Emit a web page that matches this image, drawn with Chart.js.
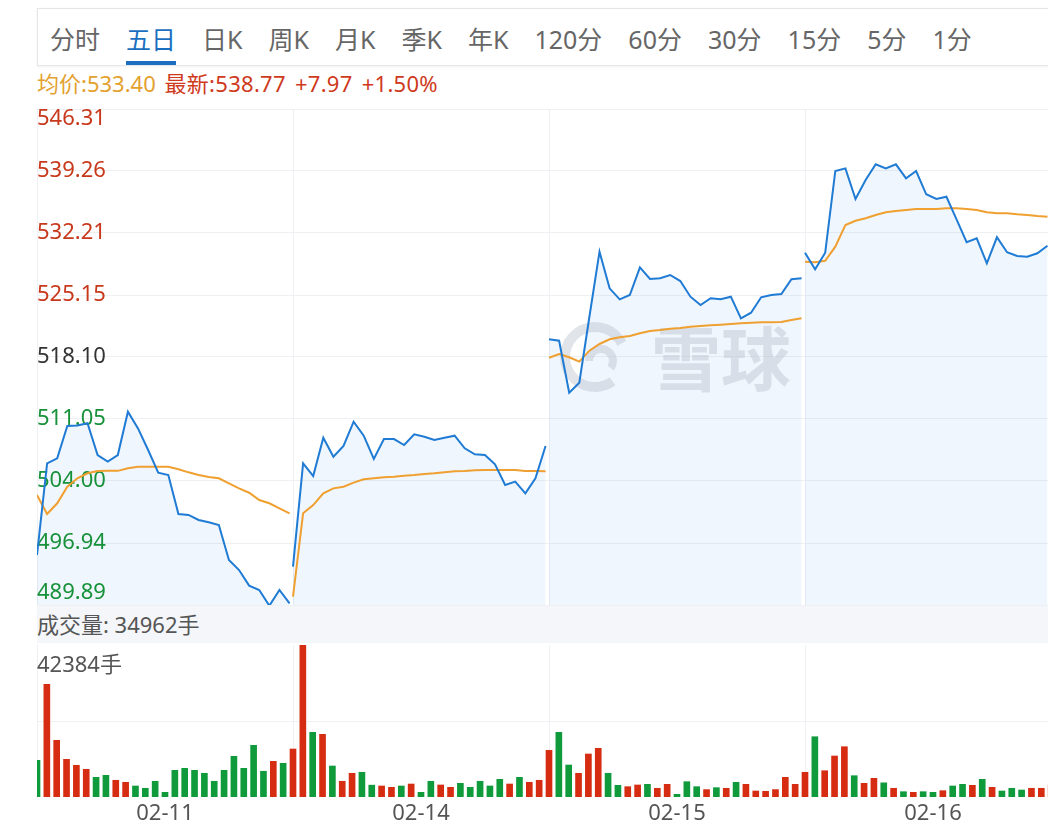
<!DOCTYPE html>
<html>
<head>
<meta charset="utf-8">
<script src="https://cdn.jsdelivr.net/npm/chart.js@4.4.1/dist/chart.umd.min.js"></script>
<style>
  html, body { margin: 0; padding: 0; width: 1048px; height: 828px; overflow: hidden; background: #fff; }
  body { position: relative; font-family: "Noto Sans", "Noto Sans CJK SC", sans-serif; }
  #tabs {
    position: absolute; left: 37px; top: 8px; width: 1040px; height: 58px; box-sizing: border-box;
    border: 1px solid #e4e6ea; box-shadow: 0 1px 3px rgba(0,0,0,0.05);
    display: flex; align-items: flex-start; gap: 26px; padding: 15px 0 0 12px;
    font-size: 25px; line-height: 30px; color: #666;
  }
  #tabs span { position: relative; white-space: nowrap; }
  #tabs .active { color: #1c6fc0; }
  #tabs .active::after { content: ''; position: absolute; left: 0; right: 0; top: 37px; height: 4px; background: #1c6fc0; }
  #quote { position: absolute; left: 37px; top: 71px; font-size: 22px; line-height: 24px; white-space: nowrap; word-spacing: 3px; }
  #quote .avg { color: #e3a12f; }
  #quote .last { color: #cf3a1d; letter-spacing: 0.3px; }
  #volBand { position: absolute; left: 37px; top: 605px; width: 1030px; height: 38px; background: #f4f6f9;
    font-size: 22px; line-height: 38px; color: #555; white-space: nowrap; }
  #volMax { position: absolute; left: 37px; top: 651px; font-size: 22px; line-height: 24px; color: #555; z-index: 2; }
  canvas { position: absolute; }
  #priceChart { left: 27px; top: 99px; }
  #volChart { left: 27px; top: 635px; }
</style>
</head>
<body>
<div id="tabs">
  <span>分时</span><span class="active">五日</span><span>日K</span><span>周K</span><span>月K</span><span>季K</span><span>年K</span><span>120分</span><span>60分</span><span>30分</span><span>15分</span><span>5分</span><span>1分</span>
</div>
<div id="quote"><span class="avg">均价:533.40</span> <span class="last">最新:538.77 +7.97 +1.50%</span></div>
<div id="volBand">成交量: 34962手</div>
<canvas id="priceChart" width="1034" height="516"></canvas>
<canvas id="volChart" width="1034" height="193"></canvas>
<div id="volMax">42384手</div>
<script>
const dayLabels = ['02-11', '02-14', '02-15', '02-16'];
const priceTicks = [489.89, 496.94, 504.00, 511.05, 518.10, 525.15, 532.21, 539.26, 546.31];
const prevClose = 518.10;
const volMax = 42384;
const slotsPerDay = 26;

// 价格 (每日 26 个点, 最后一天只看得到 25 个)
const day1Price = [495.58, 506.0, 506.57, 510.25, 510.3, 510.56, 506.95, 506.2, 506.95, 511.88, 509.98, 507.52, 504.94, 504.68, 500.24, 500.13, 499.56, 499.3, 498.99, 495.01, 493.87, 492.09, 491.6, 489.81, 491.6, 490.08];
const day2Price = [494.25, 506.0, 504.56, 508.92, 506.76, 507.98, 510.74, 509.15, 506.5, 508.77, 508.77, 508.09, 509.31, 509.03, 508.66, 508.92, 509.15, 507.71, 507.03, 506.95, 505.89, 503.54, 503.92, 502.59, 504.3, 507.98];
const day3Price = [520.11, 519.95, 514.04, 515.18, 522.68, 530.08, 525.91, 524.66, 525.15, 528.3, 526.97, 527.05, 527.43, 526.74, 524.96, 524.01, 524.78, 524.66, 524.96, 522.5, 523.14, 524.89, 525.15, 525.27, 526.94, 527.05];
const day4Price = [529.96, 528.08, 529.96, 539.26, 539.56, 536.07, 538.23, 540.02, 539.56, 540.02, 538.43, 539.26, 536.61, 536.07, 536.33, 533.76, 531.15, 531.6, 528.76, 531.72, 530.01, 529.59, 529.51, 529.9, 530.76];

// 均价
const day1Avg = [502.4, 500.24, 501.46, 503.35, 504.3, 504.87, 505.13, 505.15, 505.15, 505.44, 505.62, 505.62, 505.62, 505.62, 505.33, 504.98, 504.68, 504.45, 504.3, 503.73, 503.16, 502.66, 501.83, 501.46, 500.89, 500.32];
const day2Avg = [490.84, 500.32, 501.26, 502.59, 503.16, 503.35, 503.81, 504.19, 504.3, 504.42, 504.48, 504.6, 504.68, 504.79, 504.87, 504.98, 505.1, 505.13, 505.21, 505.25, 505.25, 505.25, 505.25, 505.13, 505.13, 505.1];
const day3Avg = [518.02, 518.44, 518.07, 517.57, 518.82, 519.58, 520.11, 520.34, 520.49, 520.8, 521.06, 521.17, 521.32, 521.4, 521.55, 521.63, 521.7, 521.78, 521.85, 521.93, 522.0, 522.04, 522.04, 522.08, 522.31, 522.5];
const day4Avg = [528.94, 528.87, 529.05, 530.65, 533.11, 533.6, 533.88, 534.25, 534.56, 534.71, 534.82, 534.93, 534.93, 534.93, 535.01, 535.01, 534.93, 534.82, 534.56, 534.45, 534.45, 534.33, 534.25, 534.14, 534.06];

// 成交量 (手) 和涨跌 (1 = 红, 0 = 绿)
const day1Vol = [10230, 31420, 15800, 10510, 8840, 7720, 5490, 6050, 4660, 4100, 3070, 2430, 4380, 1310, 7440, 8000, 7440, 6610, 4380, 7440, 11350, 8000, 14410, 7170, 9950, 9400];
const day2Vol = [13380, 42384, 18030, 17480, 8640, 4380, 6610, 6890, 3300, 3070, 2700, 3070, 3620, 1310, 4380, 3350, 2700, 3810, 2700, 4380, 3070, 4930, 3620, 5490, 4100, 4660];
const day3Vol = [13020, 18030, 8920, 6610, 11990, 13580, 6610, 3260, 2880, 3350, 3530, 2430, 3530, 750, 4270, 2880, 2060, 2600, 2430, 4100, 3530, 1670, 1590, 2060, 5490, 3530];
const day4Vol = [6890, 16810, 7330, 11430, 14020, 5940, 3810, 5210, 3950, 2430, 1480, 1310, 1480, 1310, 1760, 3070, 3530, 3260, 4930, 2700, 1670, 2430, 1950, 2430, 2430, 3350];
const day1Up = [0,1,1,1,1,1,0,0,1,1,0,0,0,0,0,0,0,0,0,0,0,0,0,0,1,0];
const day2Up = [1,1,0,1,0,1,1,0,0,1,1,0,1,0,0,1,1,0,0,0,0,0,1,0,1,1];
const day3Up = [1,0,0,1,1,1,0,0,1,1,0,1,1,0,0,0,1,0,1,0,1,1,1,1,1,1];
const day4Up = [1,0,1,1,1,0,1,1,0,1,0,1,0,0,1,0,0,1,0,1,0,0,0,1,1,1];

const BLUE = '#1f7bd3';
const ORANGE = '#efa030';
const RED = '#d62c12';
const GREEN = '#0f9a3c';
const GRID = '#eef0f3';
const FONT = '"Noto Sans", "Noto Sans CJK SC", sans-serif';

Chart.defaults.font.family = FONT;
Chart.defaults.font.size = 22;

const totalSlots = slotsPerDay * dayLabels.length;
const dayStarts = [];
for (let d = 0; d <= dayLabels.length; d++) dayStarts.push(d * slotsPerDay);
const dayCenters = dayLabels.map((_, d) => d * slotsPerDay + slotsPerDay / 2);
// 分时线在一天里铺得比量柱略宽, 只在日末留一点空
const lineStep = (slotsPerDay - 0.35) / (slotsPerDay - 1);

const dayPrices = [day1Price, day2Price, day3Price, day4Price];
const dayAvgs = [day1Avg, day2Avg, day3Avg, day4Avg];
const dayVols = [day1Vol, day2Vol, day3Vol, day4Vol];
const dayUps = [day1Up, day2Up, day3Up, day4Up];

const toPoints = (vals, d) => vals.map((v, i) => ({ x: d * slotsPerDay + i * lineStep, y: v }));

const priceDatasets = [];
dayPrices.forEach((vals, d) => {
  priceDatasets.push({ data: toPoints(vals, d), borderColor: BLUE, borderWidth: 2,
    backgroundColor: 'rgba(40,130,220,0.07)', fill: 'start', order: 0 });
  priceDatasets.push({ data: toPoints(dayAvgs[d], d), borderColor: ORANGE, borderWidth: 2, fill: false, order: 1 });
});

// 水印
const watermark = {
  id: 'watermark',
  beforeDatasetsDraw(chart) {
    const { ctx, scales: { x, y } } = chart;
    const cx = x.getPixelForValue(65);
    const cy = y.getPixelForValue(priceTicks[4]);
    ctx.save();
    ctx.strokeStyle = 'rgba(175,183,198,0.38)';
    ctx.fillStyle = 'rgba(175,183,198,0.38)';
    ctx.lineWidth = 10;
    ctx.beginPath();
    ctx.arc(cx - 82, cy, 30, 0.3 * Math.PI, 1.85 * Math.PI);
    ctx.stroke();
    ctx.lineWidth = 8;
    ctx.beginPath();
    ctx.arc(cx - 76, cy + 4, 12, 1.0 * Math.PI, 2.2 * Math.PI);
    ctx.stroke();
    ctx.font = 'bold 70px "Noto Sans CJK SC"';
    ctx.textAlign = 'left';
    ctx.textBaseline = 'middle';
    ctx.fillText('雪球', cx - 26, cy + 2);
    ctx.restore();
  }
};

// 价格刻度
const priceLabels = {
  id: 'priceLabels',
  beforeDatasetsDraw(chart) {
    const { ctx, chartArea, scales: { y } } = chart;
    ctx.save();
    ctx.font = '22px ' + FONT;
    ctx.textAlign = 'left';
    ctx.textBaseline = 'middle';
    priceTicks.forEach((v, i) => {
      let py = y.getPixelForValue(v);
      if (i === priceTicks.length - 1) py += 10;
      else if (i === 0) py -= 12;
      ctx.fillStyle = v > prevClose ? '#c8391c' : (v < prevClose ? '#17913a' : '#333');
      ctx.fillText(v.toFixed(2), chartArea.left, py);
    });
    ctx.restore();
  }
};

new Chart(document.getElementById('priceChart'), {
  type: 'line',
  data: { datasets: priceDatasets },
  plugins: [watermark, priceLabels],
  options: {
    responsive: false,
    animation: false,
    layout: { padding: { left: 10, top: 10, right: 0, bottom: 10 } },
    elements: { point: { radius: 0 }, line: { tension: 0 } },
    plugins: { legend: { display: false }, tooltip: { enabled: false }, filler: { drawTime: 'beforeDatasetsDraw' } },
    scales: {
      x: {
        type: 'linear', min: 0, max: totalSlots,
        border: { display: false },
        ticks: { display: false },
        grid: { color: GRID, drawTicks: false },
        afterBuildTicks: s => { s.ticks = dayStarts.map(v => ({ value: v })); },
        afterFit: s => { s.height = 0; }
      },
      y: {
        min: priceTicks[0], max: priceTicks[priceTicks.length - 1],
        border: { display: false },
        ticks: { display: false },
        grid: { color: GRID, drawTicks: false },
        afterBuildTicks: s => { s.ticks = priceTicks.map(v => ({ value: v })); },
        afterFit: s => { s.width = 0; }
      }
    }
  }
});

const volPoints = [];
const volColors = [];
dayVols.forEach((vals, d) => {
  vals.forEach((v, i) => {
    volPoints.push({ x: d * slotsPerDay + i, y: v });
    volColors.push(dayUps[d][i] ? RED : GREEN);
  });
});

new Chart(document.getElementById('volChart'), {
  type: 'bar',
  data: { datasets: [{ data: volPoints, backgroundColor: volColors, barThickness: 6, xAxisID: 'x', yAxisID: 'y' }] },
  options: {
    responsive: false,
    animation: false,
    layout: { padding: { left: 10, top: 10, right: 0, bottom: 0 } },
    plugins: { legend: { display: false }, tooltip: { enabled: false } },
    scales: {
      x: {
        type: 'linear', min: 0, max: totalSlots, offset: false,
        border: { display: false },
        ticks: { display: false },
        grid: { color: GRID, drawTicks: false, offset: false },
        afterBuildTicks: s => { s.ticks = dayStarts.map(v => ({ value: v })); },
        afterFit: s => { s.height = 0; }
      },
      xl: {
        type: 'linear', position: 'bottom', min: 0, max: totalSlots, offset: false,
        border: { display: false },
        grid: { display: false },
        ticks: { autoSkip: false, maxRotation: 0, padding: -4, color: '#555',
          callback: (v, i) => dayLabels[i] },
        afterBuildTicks: s => { s.ticks = dayCenters.map(v => ({ value: v })); },
        afterFit: s => { s.height = 31; }
      },
      y: {
        min: 0, max: volMax,
        border: { display: false },
        ticks: { display: false },
        grid: { color: GRID, drawTicks: false },
        afterBuildTicks: s => { s.ticks = [{ value: volMax / 2 }]; },
        afterFit: s => { s.width = 0; }
      }
    }
  }
});
</script>
</body>
</html>
